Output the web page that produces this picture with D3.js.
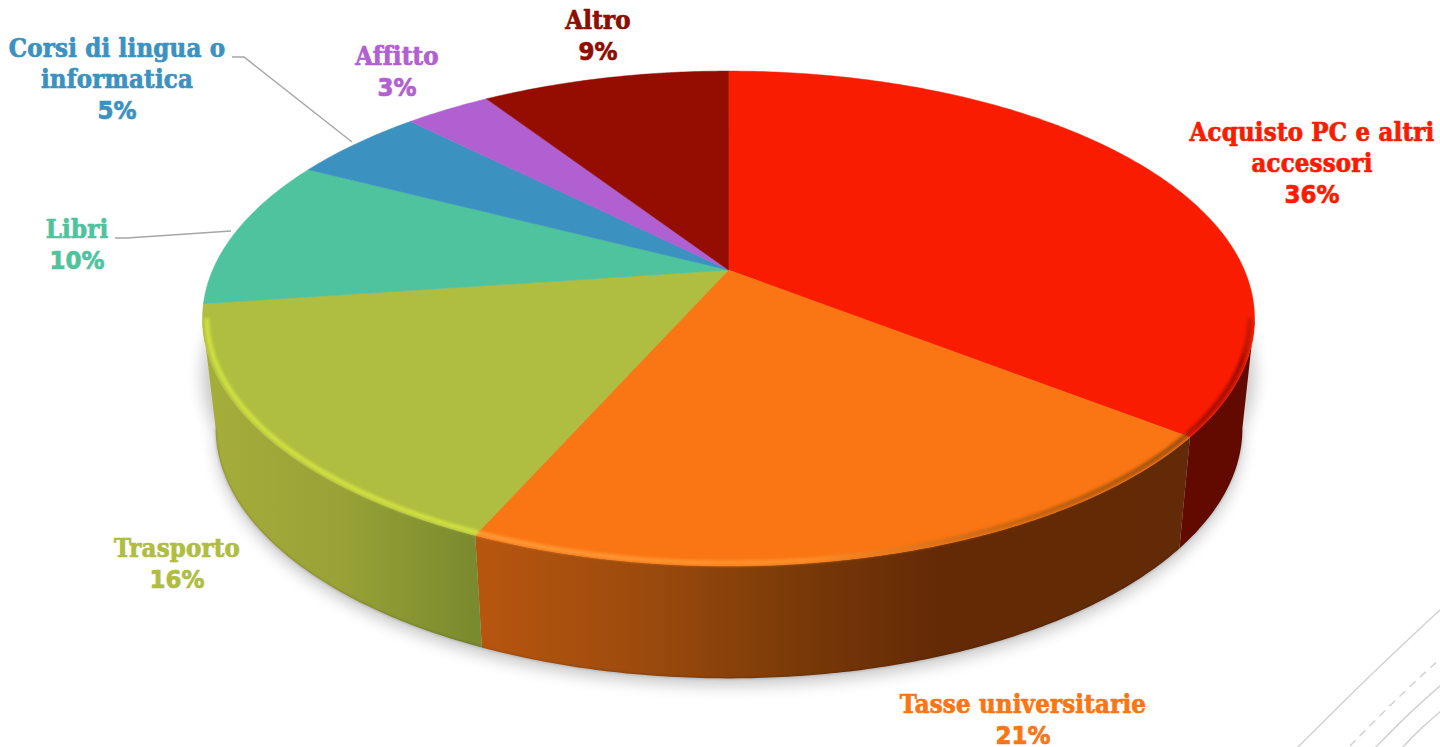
<!DOCTYPE html>
<html>
<head>
<meta charset="utf-8">
<script src="https://cdn.jsdelivr.net/npm/d3@7"></script>
<style>
    html, body { margin: 0; padding: 0; background: #fff; overflow: hidden; }
    text { font-family: "DejaVu Serif Condensed", "DejaVu Serif", serif; font-weight: 700; text-anchor: middle; letter-spacing: 0.2px; }
    tspan.pct { font-family: "DejaVu Sans Condensed", "DejaVu Sans", sans-serif; letter-spacing: 0; }
</style>
</head>
<body>
<svg id="chart" width="1440" height="747"></svg>
<script>
const categories = ["Acquisto PC e altri accessori", "Tasse universitarie", "Trasporto", "Libri", "Corsi di lingua o informatica", "Affitto", "Altro"];
// slice sizes as measured on the picture, labels carry the rounded figure
const shares = [35.6, 21, 16.2, 9.8, 5, 3.2, 9.2];
const percentLabels = ["36%", "21%", "16%", "10%", "5%", "3%", "9%"];

const topColors = ["#f91c00", "#fa7513", "#afbd40", "#4fc39d", "#3b92c1", "#b160d1", "#940d00"];
const wallStops = [
    [[0, "#620a00"], [1, "#620a00"]],
    [[0, "#b8560f"], [0.25, "#9a4a0d"], [0.45, "#7a3a08"], [0.65, "#642a06"], [1, "#622a06"]],
    [[0, "#a6ae3b"], [0.5, "#98a236"], [1, "#7a8a2e"]],
];
const rimStops = [
    [[0, "#b01200"], [0.8, "#a00f00"], [1, "#e01a00"]],
    [[0, "#ff9a35"], [0.45, "#ff8f2a"], [0.7, "#d06a12"], [1, "#a04f0c"]],
    [[0, "#cfe040"], [1, "#cfe040"]],
];

// label placement: centre x of every line, first baseline
const labelLayout = [
    {lines: ["Acquisto PC e altri", "accessori"], x: 1312, y: 141},
    {lines: ["Tasse universitarie"], x: 1023, y: 713},
    {lines: ["Trasporto"], x: 177, y: 557},
    {lines: ["Libri"], x: 77, y: 238},
    {lines: ["Corsi di lingua o", "informatica"], x: 117, y: 57},
    {lines: ["Affitto"], x: 397, y: 65},
    {lines: ["Altro"], x: 598, y: 29},
];

const width = 1440;
const height = 747;
const fontSize = 25.5;
const lineStep = 31;

// perspective of the pie top: circle seen from above, apex sits above the ellipse centre
const cx = 728.5;
const apexY = 270;
const persp = 0.196;
const radX = 515.8;
const radY = 185;
const wallScale = 0.976;
const wallShift = 0.5;
const wallDrop = 110;
const faceMidY = 318.5;

function project(phi, r = 1) {
    const X = r * Math.sin(phi);
    const Y = -r * Math.cos(phi);
    const d = 1 - persp * Y;
    return [cx + radX * X / d, (apexY + radY * Y) / d];
}

function projectBase(phi) {
    const [x, y] = project(phi);
    return [cx + wallShift + (x - cx) * wallScale, y + wallDrop + (y - faceMidY) * 0.01];
}

const angleSteps = (a0, a1) => {
    const n = Math.max(2, Math.ceil((a1 - a0) / 0.01));
    return d3.range(n + 1).map(i => a0 + (a1 - a0) * i / n);
};

const svg = d3.select("#chart");
const defs = svg.append("defs");
const line = d3.line();

const blur = (id, std) => defs.append("filter")
    .attr("id", id)
    .attr("filterUnits", "userSpaceOnUse")
    .attr("x", 0).attr("y", 0).attr("width", width).attr("height", height)
    .append("feGaussianBlur").attr("stdDeviation", std);
blur("shadowBlur", 8);
blur("rimBlur", 1.8);
blur("edgeBlur", 0.8);

const tau = 2 * Math.PI;
const slices = d3.pie().sort(null).value(d => d).startAngle(0).endAngle(tau)(shares);

// the wall is only seen between the two widest points of the ellipse
const wallFrom = Math.PI / 2 + Math.asin(persp);
const wallTo = tau - wallFrom;
const nearSlices = slices
    .filter(s => s.endAngle > wallFrom && s.startAngle < wallTo)
    .map(s => ({index: s.index, a0: Math.max(s.startAngle, wallFrom), a1: Math.min(s.endAngle, wallTo)}));

const addGradient = (id, stops, s) => {
    const xs = angleSteps(s.a0, s.a1).map(a => project(a)[0]);
    const grad = defs.append("linearGradient")
        .attr("id", id)
        .attr("gradientUnits", "userSpaceOnUse")
        .attr("x1", d3.min(xs)).attr("x2", d3.max(xs))
        .attr("y1", 0).attr("y2", 0);
    grad.selectAll("stop")
        .data(stops)
        .join("stop")
        .attr("offset", d => d[0])
        .attr("stop-color", d => d[1]);
};
nearSlices.forEach(s => {
    addGradient(`wall${s.index}`, wallStops[s.index], s);
    addGradient(`rim${s.index}`, rimStops[s.index], s);
});

// template decoration, bottom right corner
const decoration = [
    {pts: [[1297, 748], [1370, 675], [1441, 609]], dash: null},
    {pts: [[1350, 746], [1395, 700], [1441, 658]], dash: "8 6"},
    {pts: [[1375, 748], [1405, 717], [1441, 685]], dash: null},
    {pts: [[1402, 748], [1420, 729], [1441, 711]], dash: null},
];
svg.append("g").selectAll("path")
    .data(decoration)
    .join("path")
    .attr("d", d => d3.line().curve(d3.curveBasis)(d.pts))
    .attr("fill", "none")
    .attr("stroke", "#d2d2d2")
    .attr("stroke-width", 1.5)
    .attr("stroke-dasharray", d => d.dash);

// soft shadow below the pie
const shadow = svg.append("g")
    .attr("opacity", 0.22)
    .attr("transform", "translate(0,7)")
    .attr("filter", "url(#shadowBlur)");
shadow.append("path")
    .attr("d", line(angleSteps(0, tau).map(projectBase)) + "Z");
shadow.append("path")
    .attr("d", line(angleSteps(0, tau).map(a => project(a))) + "Z")
    .attr("transform", "translate(0,50)");

// side walls
svg.append("g").selectAll("path")
    .data(nearSlices)
    .join("path")
    .attr("d", s => {
        const steps = angleSteps(s.a0, s.a1);
        return line([...steps.map(a => project(a)), ...steps.reverse().map(projectBase)]) + "Z";
    })
    .attr("fill", s => `url(#wall${s.index})`);

// dark line at the foot of the wall
svg.append("path")
    .attr("d", line(angleSteps(wallFrom, wallTo).map(projectBase)))
    .attr("fill", "none")
    .attr("stroke", "#000")
    .attr("stroke-opacity", 0.18)
    .attr("stroke-width", 1.6)
    .attr("filter", "url(#edgeBlur)");

// top face
svg.append("g").selectAll("path")
    .data(slices)
    .join("path")
    .attr("d", s => line([project(0, 0), ...angleSteps(s.startAngle, s.endAngle).map(a => project(a))]) + "Z")
    .attr("fill", (s, i) => topColors[i])
    .attr("stroke", (s, i) => topColors[i])
    .attr("stroke-width", 0.5);

// bevel along the near edge
svg.append("g").attr("filter", "url(#rimBlur)").selectAll("path")
    .data(nearSlices)
    .join("path")
    .attr("d", s => line(angleSteps(s.a0, s.a1).map(a => project(a, 0.992))))
    .attr("fill", "none")
    .attr("stroke", s => `url(#rim${s.index})`)
    .attr("stroke-width", 5);

// leader lines
const leaders = [
    [[232, 57], [244, 57], [352, 142]],
    [[115, 238], [127, 238], [231, 231]],
];
svg.append("g").selectAll("path")
    .data(leaders)
    .join("path")
    .attr("d", d => line(d))
    .attr("fill", "none")
    .attr("stroke", "#a6a6a6")
    .attr("stroke-width", 1.5);

// labels
const labelColor = (d, i) => i === 6 ? "#8f0c00" : topColors[i];
const labels = svg.append("g").selectAll("text")
    .data(labelLayout)
    .join("text")
    .attr("font-size", fontSize)
    .attr("y", d => d.y)
    .attr("fill", labelColor)
    .attr("stroke", labelColor)
    .attr("stroke-width", 0.7);
labels.selectAll("tspan")
    .data((d, i) => [
        ...d.lines.map(t => ({t, x: d.x, cls: null})),
        {t: percentLabels[i], x: d.x, cls: "pct"},
    ])
    .join("tspan")
    .attr("class", d => d.cls)
    .attr("x", d => d.x)
    .attr("dy", (d, i) => i === 0 ? 0 : lineStep)
    .text(d => d.t);
</script>
</body>
</html>
